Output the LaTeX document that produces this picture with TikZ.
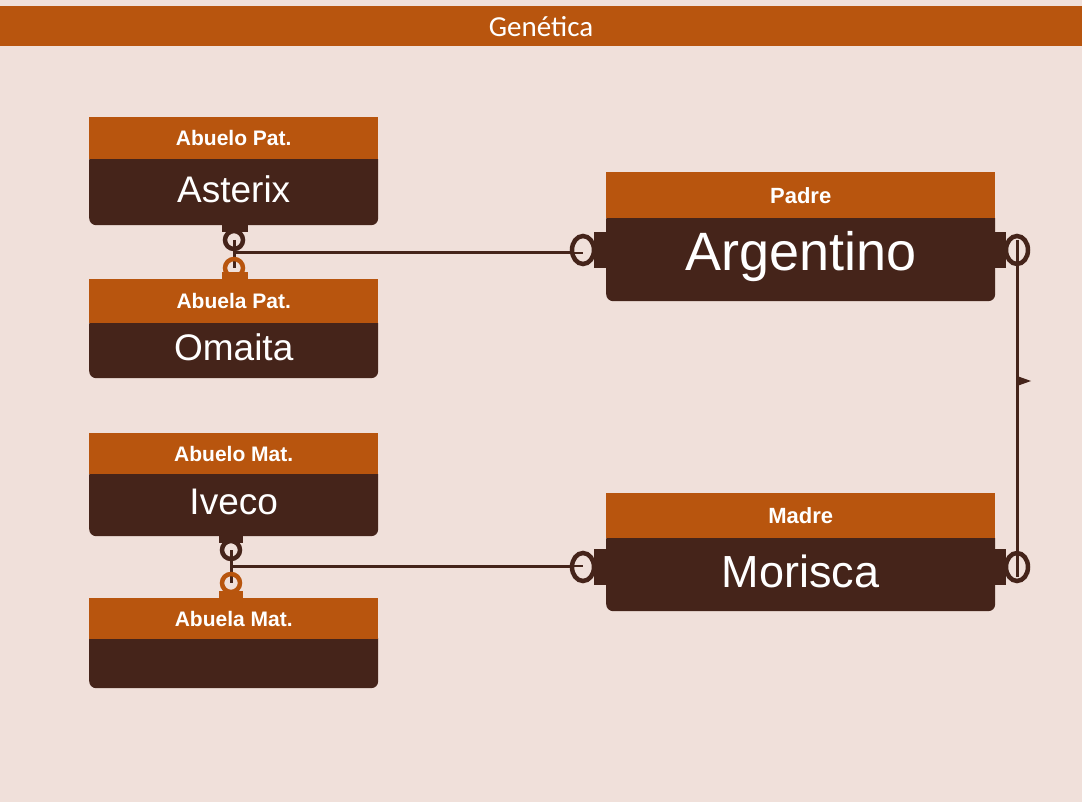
\documentclass[tikz,border=0pt]{standalone}
\usepackage{fontspec}
\setmainfont{Liberation Sans}
\newfontfamily\titlefont{Carlito}
\usetikzlibrary{positioning,calc}
\definecolor{bgpink}{HTML}{F0E0DA}
\definecolor{rust}{HTML}{B8550E}
\definecolor{darkbrown}{HTML}{45241A}
\tikzset{
  hdr/.style={fill=rust, text=white, font=\bfseries\fontsize{21}{24}\selectfont, inner sep=0pt, anchor=north west},
  bodybox/.style={fill=darkbrown, text=white, rounded corners=7pt, inner sep=0pt, anchor=north west},
  link/.style={draw=darkbrown, line width=3pt},
  ring/.style={line width=4.5pt}
}
\begin{document}
\begin{tikzpicture}[x=1pt, y=-1pt]
  \useasboundingbox[fill=bgpink] (0,0) rectangle (1082,802);
  % title bar
  \fill[rust] (0,6) rectangle (1082,46);
  \node[text=white, font=\titlefont\fontsize{29}{32}\selectfont] (title) at (541,27) {Genética};

  % left column
  \node[bodybox, minimum width=289pt, minimum height=72pt, font=\fontsize{37}{40}\selectfont] (asterix) at (89,153) {\raisebox{-4pt}{Asterix}};
  \node[hdr, minimum width=289pt, minimum height=42pt] (abpat) at (89,117) {Abuelo Pat.};
  \node[bodybox, minimum width=289pt, minimum height=61pt, font=\fontsize{37}{40}\selectfont] (omaita) at (89,317) {\raisebox{-6pt}{Omaita}};
  \node[hdr, minimum width=289pt, minimum height=44pt] (abapat) at (89,279) {Abuela Pat.};
  \node[bodybox, minimum width=289pt, minimum height=68pt, font=\fontsize{37}{40}\selectfont] (iveco) at (89,468) {\raisebox{-6pt}{Iveco}};
  \node[hdr, minimum width=289pt, minimum height=41pt] (abmat) at (89,433) {Abuelo Mat.};
  \node[bodybox, minimum width=289pt, minimum height=56pt] (nameless) at (89,632) {};
  \node[hdr, minimum width=289pt, minimum height=41pt] (abamat) at (89,598) {Abuela Mat.};

  % right column
  \node[bodybox, minimum width=389pt, minimum height=89pt, font=\fontsize{54}{58}\selectfont] (argentino) at (606,212) {\raisebox{-8pt}{Argentino}};
  \node[hdr, minimum width=389pt, minimum height=46pt, font=\bfseries\fontsize{22}{25}\selectfont] (padre) at (606,172) {Padre};
  \node[bodybox, minimum width=389pt, minimum height=79pt, font=\fontsize{45}{48}\selectfont] (morisca) at (606,532) {\raisebox{-6pt}{Morisca}};
  \node[hdr, minimum width=389pt, minimum height=45pt, font=\bfseries\fontsize{22}{25}\selectfont] (madre) at (606,493) {Madre};

  % connector ends
  \coordinate (pa) at (234,240);
  \coordinate (pb) at (234,268);
  \coordinate (ma) at (231,550);
  \coordinate (mb) at (231,583);
  \coordinate (fl) at (583,250);
  \coordinate (fr) at (1017,250);
  \coordinate (ml) at (583,567);
  \coordinate (mr) at (1017,567);

  % paternal link
  \fill[darkbrown] (222,224) rectangle (248,232);
  \fill[rust] (222,272) rectangle (248,280);
  \draw[link] (pa) -- (pb);
  \draw[link] (pa |- 0,253) -- (572,253);
  \draw[ring, darkbrown] (pa) ellipse (9pt and 9pt);
  \draw[ring, rust] (pb) ellipse (9pt and 9pt);

  % maternal link
  \fill[darkbrown] (219,535) rectangle (243,543);
  \fill[rust] (219,591) rectangle (243,599);
  \draw[link] (ma) -- (mb);
  \draw[link] (ma |- 0,566) -- (572,566);
  \draw[ring, darkbrown] (ma) ellipse (9pt and 9pt);
  \draw[ring, rust] (mb) ellipse (9pt and 9pt);

  % tabs on parents
  \fill[darkbrown] (594,232) rectangle (607,268);
  \fill[darkbrown] (994,232) rectangle (1006,268);
  \fill[darkbrown] (594,549) rectangle (607,585);
  \fill[darkbrown] (994,549) rectangle (1006,585);
  \draw[ring, darkbrown, fill=bgpink] (fl) ellipse (11pt and 14pt);
  \draw[ring, darkbrown, fill=bgpink] (ml) ellipse (11pt and 14pt);
  \draw[ring, darkbrown, fill=bgpink] (fr) ellipse (11pt and 14pt);
  \draw[ring, darkbrown, fill=bgpink] (mr) ellipse (11pt and 14pt);
  \draw[link, line width=2pt] (572,253) -- ($(fl)+(0,3)$);
  \draw[link, line width=2pt] (572,566) -- ($(ml)+(0,-1)$);

  % spouse link
  \draw[link] ($(fr)+(0,-10)$) -- ($(mr)+(0,10)$);
  \fill[darkbrown] (1017,376) -- (1031,381) -- (1017,386) -- cycle;
\end{tikzpicture}
\end{document}
